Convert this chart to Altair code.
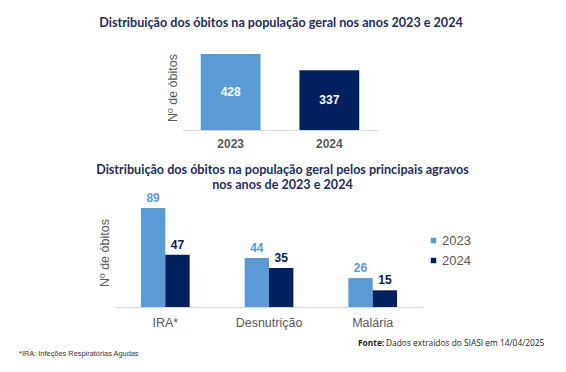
import altair as alt
import pandas as pd

# ---- data ----
years = ["2023", "2024"]
total_obitos = [428, 337]
agravos = ["IRA*", "Desnutrição", "Malária"]
obitos_2023 = [89, 44, 26]
obitos_2024 = [47, 35, 15]

title_top = "Distribuição dos óbitos na população geral nos anos 2023 e 2024"
title_bottom = ["Distribuição dos óbitos na população geral pelos principais agravos",
                "nos anos de 2023 e 2024"]
y_title = "Nº de óbitos"
fonte_bold = "Fonte:"
fonte_text = "Dados extraídos do SIASI em 14/04/2025"
footnote = "*IRA: Infeções Respiratórias Agudas"

LIGHT = "#5b9bd5"
DARK = "#002060"
GRAY = "#595959"
TITLE_COLOR = "#1f2d5c"
TITLE_FONT = "Lato"
AX_FONT = "Liberation Sans"

# ---- top chart ----
top_df = pd.DataFrame({"year": years, "value": total_obitos})
top_base = alt.Chart(top_df).encode(
    x=alt.X("year:N", sort=years,
            scale=alt.Scale(range=[174, 370], paddingInner=0.394, paddingOuter=0.19),
            axis=alt.Axis(orient="bottom", offset=-234, title=None, ticks=False,
                          domainColor="#d9d9d9", labelAngle=0, labelFont=AX_FONT,
                          labelFontWeight="bold", labelFontSize=12, labelColor=GRAY,
                          labelPadding=8)),
)
top_bars = top_base.mark_bar().encode(
    y=alt.Y("value:Q", scale=alt.Scale(domain=[0, 428], range=[122, 46], nice=False), axis=None),
    color=alt.Color("year:N", scale=alt.Scale(domain=years, range=[LIGHT, DARK]), legend=None),
)
top_labels = top_base.transform_calculate(mid="datum.value / 2").mark_text(
    color="white", fontWeight="bold", fontSize=12, font=AX_FONT, baseline="middle"
).encode(
    y=alt.Y("mid:Q", scale=alt.Scale(domain=[0, 428], range=[122, 46], nice=False), axis=None),
    text="value:Q",
)
top_layer = alt.layer(top_bars, top_labels)

# ---- bottom chart ----
rows = []
for a, v1, v2 in zip(agravos, obitos_2023, obitos_2024):
    rows.append({"agravo": a, "year": "2023", "value": v1})
    rows.append({"agravo": a, "year": "2024", "value": v2})
bot_df = pd.DataFrame(rows)

bot_base = alt.Chart(bot_df).encode(
    x=alt.X("agravo:N", sort=agravos,
            scale=alt.Scale(range=[107, 415], paddingInner=0.53, paddingOuter=0.25),
            axis=alt.Axis(orient="bottom", offset=-57, title=None, ticks=False,
                          domainColor="#d9d9d9", labelAngle=0, labelFont=AX_FONT,
                          labelFontSize=12.5, labelColor=GRAY, labelPadding=9)),
    xOffset=alt.XOffset("year:N", sort=years, scale=alt.Scale(paddingInner=0, paddingOuter=0)),
    y=alt.Y("value:Q", scale=alt.Scale(domain=[0, 89], range=[299, 200], nice=False), axis=None),
    color=alt.Color("year:N", scale=alt.Scale(domain=years, range=[LIGHT, DARK]),
                    legend=alt.Legend(orient="none", legendX=419, legendY=226, title=None,
                                      symbolType="square", symbolSize=30, symbolStrokeWidth=0,
                                      labelFontSize=13, labelFont=AX_FONT, labelColor=GRAY,
                                      rowPadding=6, labelOffset=2)),
)
bot_bars = bot_base.mark_bar()
bot_labels = bot_base.mark_text(fontWeight="bold", fontSize=12, font=AX_FONT,
                                baseline="middle", dy=-10).encode(text="value:Q")
bot_layer = alt.layer(bot_bars, bot_labels)

# ---- texts ----
def txt(t, x, y, **kw):
    return alt.Chart(pd.DataFrame({"t": [t]})).mark_text(**kw).encode(
        text="t:N", x=alt.value(x), y=alt.value(y))

t1 = txt(title_top, 273, 15, font=TITLE_FONT, fontWeight="bold", fontSize=12.6,
         color=TITLE_COLOR, align="center", baseline="middle")
t2 = alt.Chart(pd.DataFrame({"t": [title_bottom]})).mark_text(
    font=TITLE_FONT, fontWeight="bold", fontSize=12.6, color=TITLE_COLOR,
    align="center", baseline="middle", lineHeight=15
).encode(text="t", x=alt.value(274.5), y=alt.value(162))
yt1 = txt(y_title, 165, 80, angle=270, font=AX_FONT, fontSize=12.5, color=GRAY,
          align="center", baseline="middle")
yt2 = txt(y_title, 97, 245, angle=270, font=AX_FONT, fontSize=12.5, color=GRAY,
          align="center", baseline="middle")
f1 = txt(fonte_bold, 350, 335, font="Open Sans", fontWeight="bold", fontSize=8.4,
         color="#222222", align="left", baseline="middle")
f2 = txt(fonte_text, 378, 335, font="Open Sans", fontSize=8.4,
         color="#222222", align="left", baseline="middle")
fn = txt(footnote, 11, 346, font=AX_FONT, fontSize=7.4, color="#333333",
         align="left", baseline="middle")

chart = alt.layer(top_layer, bot_layer, t1, t2, yt1, yt2, f1, f2, fn).resolve_scale(
    x="independent", y="independent", color="independent"
).properties(
    width=550, height=356, padding=0,
    autosize=alt.AutoSizeParams(type="none"),
    background="white",
).configure_view(stroke=None)

chart.save("out.html", embed_options={"renderer": "svg", "actions": False})
